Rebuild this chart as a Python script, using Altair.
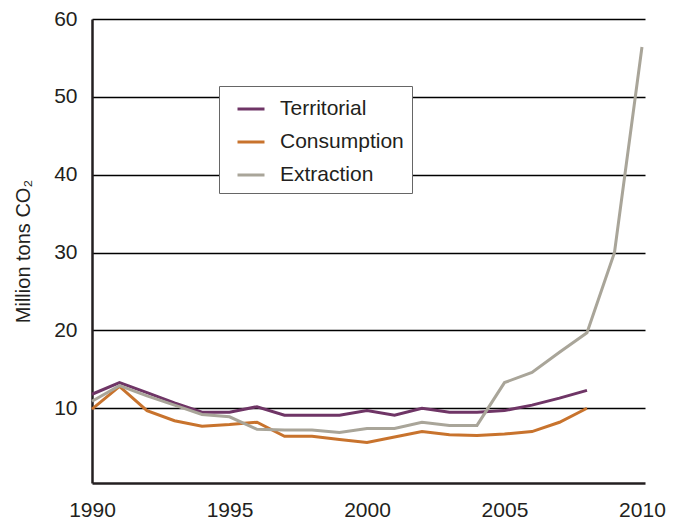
import altair as alt
import pandas as pd

years = list(range(1990, 2011))
series_names = ["Territorial", "Consumption", "Extraction"]
series_colors = ["#6f3566", "#c8732d", "#a9a599"]

territorial = [11.8, 13.3, 12.0, 10.7, 9.5, 9.5, 10.2, 9.1, 9.1, 9.1,
               9.7, 9.1, 10.0, 9.5, 9.5, 9.7, 10.4, 11.3, 12.3]
consumption = [9.9, 12.8, 9.7, 8.4, 7.7, 7.9, 8.2, 6.4, 6.4, 6.0,
               5.6, 6.3, 7.0, 6.6, 6.5, 6.7, 7.0, 8.2, 10.0]
extraction = [10.9, 12.9, 11.6, 10.4, 9.2, 8.9, 7.3, 7.2, 7.2, 6.9,
              7.4, 7.4, 8.2, 7.8, 7.8, 13.3, 14.6, 17.2, 19.7, 30.0, 56.4]

y_ticks = [10, 20, 30, 40, 50, 60]
x_ticks = [1990, 1995, 2000, 2005, 2010]

rows = []
for name, vals in zip(series_names, [territorial, consumption, extraction]):
    for yr, v in zip(years, vals):
        rows.append({"year": yr, "value": v, "series": name})
df = pd.DataFrame(rows)

FONT = "Liberation Sans"
TXT = "#231f20"

chart = alt.Chart(df).mark_line(strokeWidth=3).encode(
    x=alt.X("year:Q",
            scale=alt.Scale(domain=[1990, 2010.11], nice=False, zero=False),
            axis=alt.Axis(values=x_ticks, format="d", ticks=False, grid=False,
                          labelPadding=16, labelFontSize=21, labelFont=FONT,
                          labelColor=TXT, domainColor=TXT, domainWidth=2.5,
                          labelFlush=False, title=None)),
    y=alt.Y("value:Q",
            scale=alt.Scale(domain=[0.4, 60], nice=False, zero=False),
            axis=alt.Axis(values=y_ticks, ticks=False, grid=True,
                          gridColor="#000000", gridWidth=1.3,
                          labelPadding=15, labelFontSize=21, labelFont=FONT,
                          labelColor=TXT, domainColor=TXT, domainWidth=2.5,
                          title="Million tons CO₂", titleFont=FONT,
                          titleFontSize=20, titleFontWeight="normal",
                          titleColor=TXT, titlePadding=20)),
    color=alt.Color("series:N",
                    scale=alt.Scale(domain=series_names, range=series_colors),
                    sort=series_names,
                    legend=alt.Legend(orient="none", legendX=127, legendY=67,
                                      title=None, symbolType="stroke",
                                      symbolSize=729, symbolStrokeWidth=3,
                                      labelFontSize=21, labelFont=FONT,
                                      labelColor=TXT, labelOffset=14,
                                      rowPadding=8, padding=8,
                                      symbolOffset=9,
                                      fillColor="white", strokeColor="#666666")),
).properties(
    width=553, height=464,
    autosize=alt.AutoSizeParams(type="none"),
    padding={"left": 84, "top": 11, "right": 30, "bottom": 36},
).configure_view(stroke=None)

chart.save("out.html", embed_options={"renderer": "svg", "actions": False})
